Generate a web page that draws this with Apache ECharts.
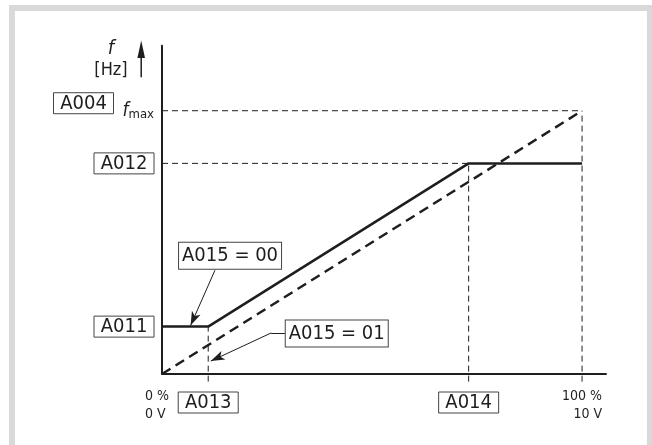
<!DOCTYPE html>
<html>
<head>
<meta charset="utf-8">
<script src="https://cdn.jsdelivr.net/npm/echarts@6/dist/echarts.min.js"></script>
<style>
html,body{margin:0;padding:0;background:#fff;}
#main{width:652px;height:445px;}
</style>
</head>
<body>
<div id="main"></div>
<script>
var FONT = "'Liberation Sans Narrow','DejaVu Sans Condensed','Liberation Sans',sans-serif";
var INK = '#1e1e1e';

// parameter levels, f in % of fmax, input in % of 10 V
var xMarks = [11, 73];
var xMarkNames = ['A013', 'A014'];
var xEnds = [0, 100];
var xEndNames = ['{l|0 %}\n{l|0 V}', '{r|100 %}\n{r|10 V}'];
var yMarks = [18, 80, 100];
var yMarkNames = ['A011', 'A012', 'A004'];

// characteristic curves
var curve00 = [[0, 18], [11, 18], [73, 80], [100, 80]];   // A015 = 00
var curve01 = [[0, 0], [100, 100]];                       // A015 = 01

// thin dashed helper lines
var below = -2.9;
var guides = [
  [[11, below], [11, 18]],
  [[73, below], [73, 80]],
  [[100, below], [100, 100]],
  [[0, 100], [100, 100]],
  [[0, 80], [73, 80]]
];

// annotations (data coords)
var notes = ['A015 = 00', 'A015 = 01'];
var noteAt = [[16.2, 44.9], [41.6, 15.4]];
var arrow00 = [[12.6, 39.4], [6.8, 18.4]];
var arrow01 = [[29.4, 15.6], [26, 15.6], [11.6, 4.9]];

var boxStyle = {
  color: INK, fontFamily: FONT, fontSize: 20, lineHeight: 25,
  borderColor: '#444', borderWidth: 1, padding: [1, 7, 0, 7],
  width: 46, align: 'center'
};

var myChart = echarts.init(document.getElementById('main'));

var series = [];
guides.forEach(function (g) {
  series.push({
    type: 'line', data: g, symbol: 'none', clip: false, silent: true,
    lineStyle: { color: INK, width: 1, type: [6, 4] }
  });
});
series.push({
  type: 'line', data: curve01, symbol: 'none', silent: true,
  lineStyle: { color: INK, width: 2.5, type: [10, 6] },
  markPoint: {
    symbol: 'rect', symbolSize: 1, silent: true,
    itemStyle: { color: 'rgba(0,0,0,0)' },
    label: {
      show: true, position: 'inside', formatter: '{b}',
      color: INK, fontFamily: FONT, fontSize: 20, lineHeight: 25,
      borderColor: '#444', borderWidth: 1, padding: [1, 8, 0, 8],
      backgroundColor: '#fff', width: 86, align: 'center'
    },
    data: [
      { name: notes[0], coord: noteAt[0] },
      { name: notes[1], coord: noteAt[1] }
    ]
  },
  markLine: {
    silent: true, symbol: ['none', 'arrow'], symbolSize: [7, 14],
    label: { show: false },
    lineStyle: { color: INK, width: 1, type: 'solid' },
    emphasis: { disabled: true },
    data: [
      [{ coord: arrow00[0] }, { coord: arrow00[1] }],
      [{ coord: arrow01[0], symbol: 'none' }, { coord: arrow01[1], symbol: 'none' }],
      [{ coord: arrow01[1] }, { coord: arrow01[2] }]
    ]
  }
});
series.push({
  type: 'line', data: curve00, symbol: 'none', silent: true,
  lineStyle: { color: INK, width: 2.5 }
});

var option = {
  animation: false,
  backgroundColor: '#fff',
  grid: { left: 162, right: 46, top: 45.7, bottom: 71, containLabel: false },
  xAxis: [
    {
      type: 'value', min: 0, max: 105.7, position: 'bottom',
      splitLine: { show: false }, axisTick: { show: false },
      axisLine: { show: true, lineStyle: { color: INK, width: 2 } },
      axisLabel: {
        customValues: xMarks, margin: 16,
        formatter: function (v) { return '{box|' + xMarkNames[xMarks.indexOf(v)] + '}'; },
        rich: { box: boxStyle }
      }
    },
    {
      type: 'value', min: 0, max: 105.7, position: 'bottom',
      splitLine: { show: false }, axisTick: { show: false },
      axisLine: { show: false },
      axisLabel: {
        customValues: xEnds, margin: 13,
        formatter: function (v) { return xEndNames[xEnds.indexOf(v)]; },
        rich: {
          l: { color: INK, fontFamily: FONT, fontSize: 14, lineHeight: 18, align: 'left', padding: [0, 10, 0, 0] },
          r: { color: INK, fontFamily: FONT, fontSize: 14, lineHeight: 18, align: 'right' }
        }
      }
    }
  ],
  yAxis: {
    type: 'value', min: 0, max: 124.7,
    splitLine: { show: false }, axisTick: { show: false },
    axisLine: { show: true, lineStyle: { color: INK, width: 2 } },
    axisLabel: {
      customValues: yMarks, margin: 8,
      formatter: function (v) {
        var n = yMarkNames[yMarks.indexOf(v)];
        if (n === 'A004') return '{boxT|A004}{gap|}{fi|f}{sub|max}';
        return '{box|' + n + '}';
      },
      rich: {
        box: boxStyle,
        boxT: echarts.util.extend(echarts.util.extend({}, boxStyle), { verticalAlign: 'top' }),
        gap: { width: 9, lineHeight: 36 },
        fi: { color: INK, fontFamily: FONT, fontSize: 19, fontStyle: 'italic', lineHeight: 20 },
        sub: { color: INK, fontFamily: FONT, fontSize: 13, lineHeight: 14, padding: [8, 0, 0, 0] }
      }
    }
  },
  graphic: [
    {
      type: 'rect', silent: true,
      shape: { x: 12, y: 8, width: 638, height: 460 },
      style: { fill: 'none', stroke: '#d9d9d9', lineWidth: 6 }
    },
    {
      type: 'text', silent: true, x: 111, y: 49,
      style: { text: 'f', font: 'italic 20px ' + FONT, fill: INK, textAlign: 'center', textVerticalAlign: 'middle' }
    },
    {
      type: 'text', silent: true, x: 111, y: 70,
      style: { text: '[Hz]', font: '18px ' + FONT, fill: INK, textAlign: 'center', textVerticalAlign: 'middle' }
    },
    {
      type: 'line', silent: true,
      shape: { x1: 141.2, y1: 55, x2: 141.2, y2: 77.3 },
      style: { stroke: INK, lineWidth: 1.5 }
    },
    {
      type: 'polygon', silent: true,
      shape: { points: [[141.2, 40.5], [137.4, 58], [145, 58]] },
      style: { fill: INK }
    }
  ],
  series: series
};
myChart.setOption(option);
</script>
</body>
</html>
